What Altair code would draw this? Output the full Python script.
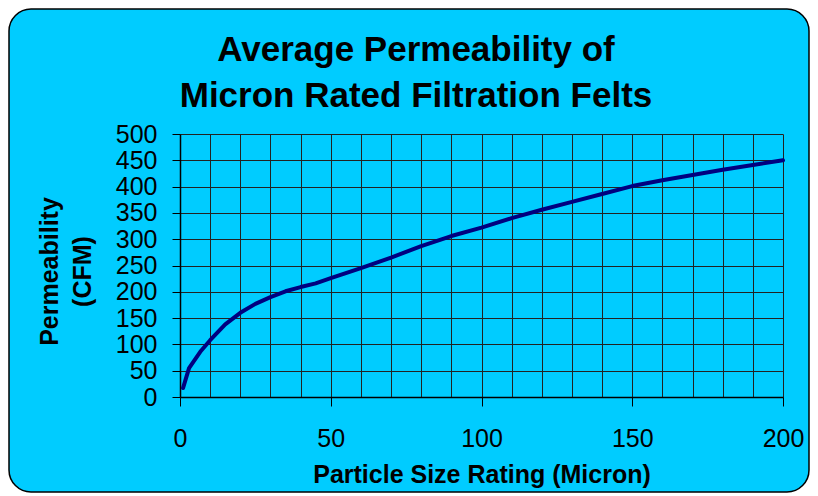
import altair as alt
import pandas as pd

# ---- data ----
size_micron = [1, 3, 7, 10, 15, 20, 25, 30, 35, 40, 45, 50, 60, 70, 80, 90,
               100, 110, 120, 130, 140, 150, 160, 170, 180, 190, 200]
permeability_cfm = [17, 55, 88, 108, 138, 160, 177, 190, 201, 209, 216, 226, 245, 265, 287, 306,
                    322, 340, 356, 371, 386, 401, 412, 422, 432, 441, 450]
x_grid_values = list(range(0, 201, 10))
y_tick_values = list(range(0, 501, 50))
title_lines = ["Average Permeability of", "Micron Rated Filtration Felts"]
x_title = "Particle Size Rating (Micron)"
y_title = ["Permeability", "(CFM)"]

df = pd.DataFrame({"size": size_micron, "perm": permeability_cfm})
one = pd.DataFrame({"k": [0]})

FONT = "Liberation Sans"
W, H = 603, 263

line = alt.Chart(df).mark_line(
    color="#000080", strokeWidth=4, strokeCap="round", strokeJoin="round"
).encode(
    x=alt.X(
        "size:Q",
        scale=alt.Scale(domain=[0, 200], nice=False, zero=True),
        axis=alt.Axis(
            values=x_grid_values,
            title=x_title,
            labelExpr="datum.value % 50 === 0 ? datum.label : ''",
            tickOpacity={"condition": {"test": "datum.value % 50 !== 0", "value": 0}, "value": 1},
            tickSize=9, tickColor="black", tickWidth=1,
            labelPadding=20, labelFontSize=25, labelFlush=False, labelOverlap=False,
            labelColor="black", labelFont=FONT,
            titleFontSize=25, titleFontWeight="bold", titleBaseline="alphabetic",
            titleY=85, titleColor="black", titleFont=FONT,
            domainColor="black", domainWidth=1.5,
            grid=True, gridColor="#222222", gridWidth=1,
        ),
    ),
    y=alt.Y(
        "perm:Q",
        scale=alt.Scale(domain=[0, 500], nice=False),
        axis=alt.Axis(
            values=y_tick_values,
            title=y_title,
            tickSize=8, tickColor="black", tickWidth=1,
            labelPadding=15, labelFontSize=25, labelFlush=False, labelOverlap=False,
            labelColor="black", labelFont=FONT,
            titleFontSize=25, titleFontWeight="bold", titleColor="black", titleFont=FONT,
            titleX=-123, titleY=137, titleAngle=270, titleBaseline="alphabetic",
            titleLineHeight=33, titleAlign="center",
            domainColor="black", domainWidth=1.5,
            grid=True, gridColor="#222222", gridWidth=1,
        ),
    ),
)

# white ring outside the rounded border (hides the square corners)
white_ring = alt.Chart(one).mark_rect(
    fillOpacity=0, stroke="white", strokeWidth=20, cornerRadius=32
).encode(
    x=alt.value(-181), x2=alt.value(639), y=alt.value(-135), y2=alt.value(368)
)

border = alt.Chart(one).mark_rect(
    fillOpacity=0, stroke="black", strokeWidth=1.5, cornerRadius=22
).encode(
    x=alt.value(-171), x2=alt.value(629), y=alt.value(-125), y2=alt.value(358)
)

title = alt.Chart(one).mark_text(
    text=title_lines, font=FONT, fontSize=35, fontWeight="bold", align="center",
    baseline="alphabetic", lineHeight=46, color="black"
).encode(x=alt.value(236), y=alt.value(-73))

chart = alt.layer(line, white_ring, border, title).properties(
    width=W, height=H,
    background="#00CCFF",
    padding={"left": 172, "top": 126, "right": 27, "bottom": 97},
    autosize=alt.AutoSizeParams(type="none"),
).configure_view(fill="white", strokeWidth=0).configure(font=FONT)

chart.save("out.html", embed_options={"renderer": "svg", "actions": False})
